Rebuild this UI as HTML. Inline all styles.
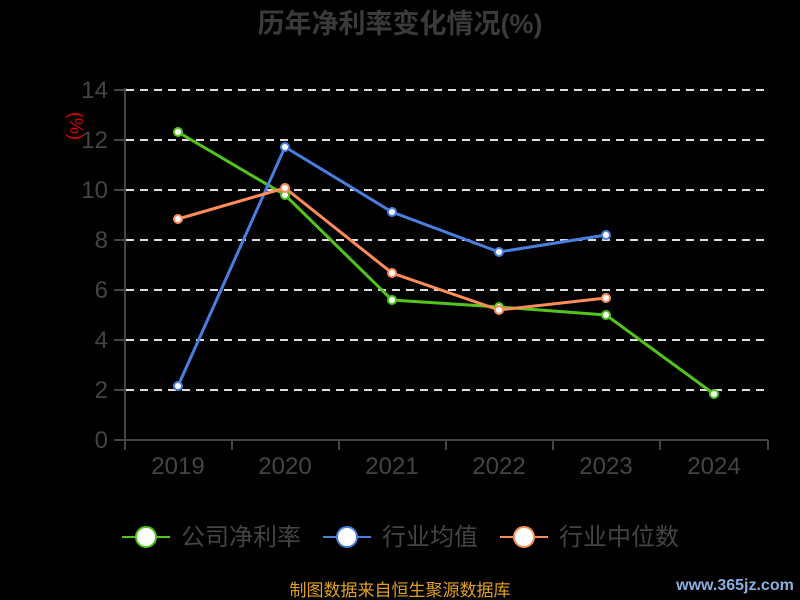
<!DOCTYPE html>
<html><head><meta charset="utf-8"><style>
html,body{margin:0;padding:0;background:#000;}
svg{display:block;font-family:"Liberation Sans","Noto Sans CJK SC",sans-serif;}
</style></head><body>
<svg width="800" height="600" viewBox="0 0 800 600">
<rect width="800" height="600" fill="#000"/>
<text x="400" y="33" text-anchor="middle" font-size="27" font-weight="bold" fill="#3a3a3a">历年净利率变化情况(%)</text>
<text transform="translate(70,126) rotate(90)" text-anchor="middle" font-size="18" fill="#e00000">(%)</text>
<g stroke="#ddd" stroke-width="2" stroke-dasharray="8,6">
<line x1="126" y1="90" x2="768" y2="90"/><line x1="126" y1="140" x2="768" y2="140"/>
<line x1="126" y1="190" x2="768" y2="190"/><line x1="126" y1="240" x2="768" y2="240"/>
<line x1="126" y1="290" x2="768" y2="290"/><line x1="126" y1="340" x2="768" y2="340"/>
<line x1="126" y1="390" x2="768" y2="390"/>
</g>
<g stroke="#444" stroke-width="2">
<line x1="125" y1="88" x2="125" y2="441"/>
<line x1="124" y1="440" x2="768" y2="440"/>
<line x1="114" y1="90" x2="125" y2="90"/><line x1="114" y1="140" x2="125" y2="140"/>
<line x1="114" y1="190" x2="125" y2="190"/><line x1="114" y1="240" x2="125" y2="240"/>
<line x1="114" y1="290" x2="125" y2="290"/><line x1="114" y1="340" x2="125" y2="340"/>
<line x1="114" y1="390" x2="125" y2="390"/><line x1="114" y1="440" x2="125" y2="440"/>
<line x1="125" y1="440" x2="125" y2="450"/><line x1="232" y1="440" x2="232" y2="450"/>
<line x1="339" y1="440" x2="339" y2="450"/><line x1="446" y1="440" x2="446" y2="450"/>
<line x1="553" y1="440" x2="553" y2="450"/><line x1="660" y1="440" x2="660" y2="450"/>
<line x1="768" y1="440" x2="768" y2="450"/>
</g>
<g font-size="24" fill="#444" text-anchor="end">
<text x="108" y="98">14</text><text x="108" y="148">12</text><text x="108" y="198">10</text>
<text x="108" y="248">8</text><text x="108" y="298">6</text><text x="108" y="348">4</text>
<text x="108" y="398">2</text><text x="108" y="448">0</text>
</g>
<g font-size="24" fill="#444" text-anchor="middle">
<text x="178" y="474">2019</text><text x="285" y="474">2020</text><text x="392" y="474">2021</text>
<text x="499" y="474">2022</text><text x="606" y="474">2023</text><text x="714" y="474">2024</text>
</g>
<g fill="none" stroke-width="3">
<polyline stroke="#52c41a" points="178,132 285,195 392,300 499,307 606,315 714,394"/>
<polyline stroke="#4a7fe0" points="178,386 285,147 392,212 499,252 606,235"/>
<polyline stroke="#ff8c5a" points="178,219 285,188 392,273 499,310 606,298"/>
</g>
<g fill="#fff" stroke-width="2">
<g stroke="#52c41a"><circle cx="178" cy="132" r="4"/><circle cx="285" cy="195" r="4"/><circle cx="392" cy="300" r="4"/><circle cx="499" cy="307" r="4"/><circle cx="606" cy="315" r="4"/><circle cx="714" cy="394" r="4"/></g>
<g stroke="#4a7fe0"><circle cx="178" cy="386" r="4"/><circle cx="285" cy="147" r="4"/><circle cx="392" cy="212" r="4"/><circle cx="499" cy="252" r="4"/><circle cx="606" cy="235" r="4"/></g>
<g stroke="#ff8c5a"><circle cx="178" cy="219" r="4"/><circle cx="285" cy="188" r="4"/><circle cx="392" cy="273" r="4"/><circle cx="499" cy="310" r="4"/><circle cx="606" cy="298" r="4"/></g>
</g>
<g stroke-width="2">
<line x1="122" y1="537" x2="170" y2="537" stroke="#52c41a"/><circle cx="146" cy="537" r="10" fill="#fff" stroke="#52c41a"/>
<line x1="323" y1="537" x2="371" y2="537" stroke="#4a7fe0"/><circle cx="347" cy="537" r="10" fill="#fff" stroke="#4a7fe0"/>
<line x1="500" y1="537" x2="548" y2="537" stroke="#ff8c5a"/><circle cx="524" cy="537" r="10" fill="#fff" stroke="#ff8c5a"/>
</g>
<g font-size="24" fill="#444">
<text x="181" y="545">公司净利率</text><text x="382" y="545">行业均值</text><text x="559" y="545">行业中位数</text>
</g>
<text x="400" y="596" text-anchor="middle" font-size="17" fill="#e0a020">制图数据来自恒生聚源数据库</text>
<text x="735" y="590" text-anchor="middle" font-size="16" font-weight="bold" fill="#8ab0e0">www.365jz.com</text>
</svg>
</body></html>
